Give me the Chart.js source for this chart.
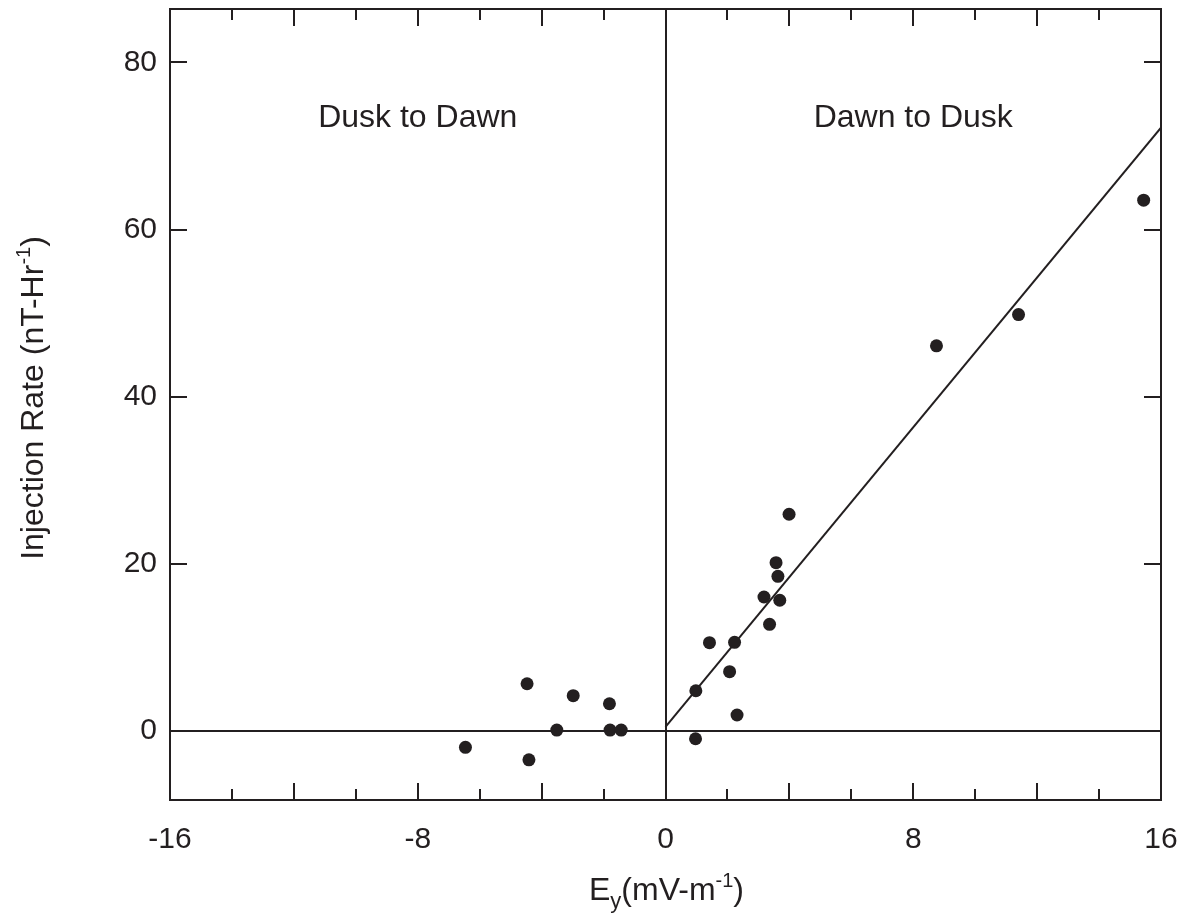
<!DOCTYPE html>
<html>
<head>
<meta charset="utf-8">
<title>Injection rate vs Ey</title>
<script src="https://cdn.jsdelivr.net/npm/chart.js@4/dist/chart.umd.min.js"></script>
<style>
    html, body { margin: 0; padding: 0; background: #fff; }
    #wrap { width: 1186px; height: 915px; }
</style>
</head>
<body>
<div id="wrap"><canvas id="myChart" width="1186" height="915"></canvas></div>
<script>
// data
const eyValues = [-6.46, -4.47, -4.41, -3.51, -2.98, -1.81, -1.79, -1.43,
    0.97, 0.98, 2.31, 2.07, 1.42, 2.23, 3.36, 3.18, 3.69, 3.63, 3.57, 3.99, 8.75, 11.40, 15.44];
const rateValues = [-1.95, 5.66, -3.44, 0.12, 4.23, 3.27, 0.12, 0.12,
    -0.92, 4.82, 1.92, 7.10, 10.57, 10.62, 12.77, 16.04, 15.65, 18.52, 20.15, 25.94, 46.09, 49.83, 63.53];
const fitX = [0, 16];
const fitY = [0.5, 72.2];

const xTicks = [-16, -8, 0, 8, 16];
const xMinorTicks = [-14, -12, -10, -8, -6, -4, -2, 2, 4, 6, 8, 10, 12, 14];
const yTicks = [0, 20, 40, 60, 80];
const regionLabels = ['Dusk to Dawn', 'Dawn to Dusk'];
const regionLabelX = [-8, 8];
const regionLabelY = 73.3;

const ink = '#231f20';
const fontFamily = '"Liberation Sans", Arial, Helvetica, sans-serif';

document.addEventListener('DOMContentLoaded', function() {
    const points = eyValues.map((x, i) => ({ x: x, y: rateValues[i] }));
    const fitLine = fitX.map((x, i) => ({ x: x, y: fitY[i] }));

    // draw text pieces with sub/superscripts, centred on cx
    function richText(ctx, parts, cx, cy, size) {
        let total = 0;
        parts.forEach(p => {
            ctx.font = Math.round(size * (p.s || 1)) + 'px ' + fontFamily;
            p.w = ctx.measureText(p.t).width;
            total += p.w;
        });
        let x = cx - total / 2;
        parts.forEach(p => {
            ctx.font = Math.round(size * (p.s || 1)) + 'px ' + fontFamily;
            ctx.fillText(p.t, x, cy + (p.dy || 0) * size);
            x += p.w;
        });
    }

    // frame, inward ticks, region labels and axis titles
    const decor = {
        id: 'decor',
        afterDatasetsDraw(chart) {
            const ctx = chart.ctx;
            const area = chart.chartArea;
            const xs = chart.scales.x;
            const ys = chart.scales.y;
            ctx.save();
            ctx.strokeStyle = ink;
            ctx.lineWidth = 2;
            ctx.strokeRect(area.left, area.top, area.right - area.left, area.bottom - area.top);

            ctx.beginPath();
            xMinorTicks.forEach(v => {
                const px = Math.round(xs.getPixelForValue(v));
                const len = (v % 4 === 0) ? 17 : 11;
                ctx.moveTo(px, area.bottom);
                ctx.lineTo(px, area.bottom - len);
                ctx.moveTo(px, area.top);
                ctx.lineTo(px, area.top + len);
            });
            yTicks.forEach(v => {
                if (v === 0) return;
                const py = Math.round(ys.getPixelForValue(v));
                ctx.moveTo(area.left, py);
                ctx.lineTo(area.left + 17, py);
                ctx.moveTo(area.right, py);
                ctx.lineTo(area.right - 17, py);
            });
            ctx.stroke();

            ctx.fillStyle = ink;
            ctx.textAlign = 'center';
            ctx.textBaseline = 'middle';
            ctx.font = '32px ' + fontFamily;
            regionLabels.forEach((t, i) => {
                ctx.fillText(t, xs.getPixelForValue(regionLabelX[i]), ys.getPixelForValue(regionLabelY));
            });

            // axis titles
            ctx.textAlign = 'left';
            ctx.textBaseline = 'alphabetic';
            richText(ctx, [
                { t: 'E' },
                { t: 'y', s: 0.7, dy: 0.25 },
                { t: '(mV-m' },
                { t: '-1', s: 0.62, dy: -0.4 },
                { t: ')' }
            ], (area.left + area.right) / 2 + 1, 900, 32);

            ctx.translate(43, 398);
            ctx.rotate(-Math.PI / 2);
            richText(ctx, [
                { t: 'Injection Rate (nT-Hr' },
                { t: '-1', s: 0.62, dy: -0.4 },
                { t: ')' }
            ], 0, 0, 32);
            ctx.restore();
        }
    };

    const ctx = document.getElementById('myChart').getContext('2d');
    const myChart = new Chart(ctx, {
        type: 'scatter',
        data: {
            datasets: [{
                label: 'Injection rate',
                data: points,
                backgroundColor: ink,
                borderColor: ink,
                pointRadius: 6.5,
                pointBorderWidth: 0
            }, {
                type: 'line',
                label: 'Fit',
                data: fitLine,
                borderColor: ink,
                borderWidth: 2,
                pointRadius: 0,
                fill: false
            }]
        },
        options: {
            responsive: false,
            animation: false,
            layout: { padding: { top: 9, right: 25, left: 0, bottom: 0 } },
            plugins: {
                legend: { display: false },
                tooltip: { enabled: false }
            },
            scales: {
                x: {
                    type: 'linear',
                    min: -16,
                    max: 16,
                    afterBuildTicks: s => { s.ticks = xTicks.map(v => ({ value: v })); },
                    afterFit: s => {
                        s.height = 115;
                        s.paddingLeft = 0;
                        s.paddingRight = 0;
                    },
                    border: { display: false },
                    grid: {
                        drawTicks: false,
                        lineWidth: 2,
                        color: c => (c.tick && c.tick.value === 0) ? ink : 'rgba(0,0,0,0)'
                    },
                    ticks: {
                        padding: 22,
                        color: ink,
                        font: { family: fontFamily, size: 30 },
                        maxRotation: 0
                    }
                },
                y: {
                    type: 'linear',
                    min: -8.25,
                    max: 86.4,
                    afterBuildTicks: s => { s.ticks = yTicks.map(v => ({ value: v })); },
                    afterFit: s => {
                        s.width = 170;
                        s.paddingTop = 0;
                        s.paddingBottom = 0;
                    },
                    border: { display: false },
                    grid: {
                        drawTicks: false,
                        lineWidth: 2,
                        color: c => (c.tick && c.tick.value === 0) ? ink : 'rgba(0,0,0,0)'
                    },
                    ticks: {
                        padding: 13,
                        color: ink,
                        font: { family: fontFamily, size: 30 }
                    }
                }
            }
        },
        plugins: [decor]
    });
});
</script>
</body>
</html>
